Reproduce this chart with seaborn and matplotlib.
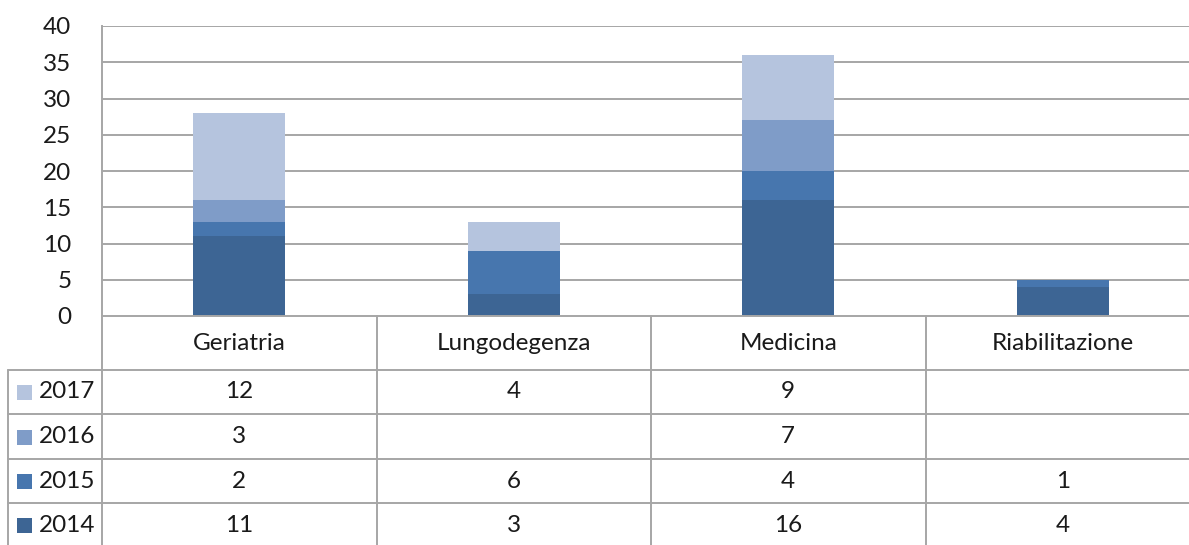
import numpy as np
import pandas as pd
import matplotlib
matplotlib.use("Agg")
import matplotlib.pyplot as plt
from matplotlib.patches import Rectangle
import seaborn as sns

# --- Data ---
reparti = ["Geriatria", "Lungodegenza", "Medicina", "Riabilitazione"]
anni = ["2014", "2015", "2016", "2017"]
v2014 = [11, 3, 16, 4]
v2015 = [2, 6, 4, 1]
v2016 = [3, 0, 7, 0]
v2017 = [12, 4, 9, 0]
yticks = [0, 5, 10, 15, 20, 25, 30, 35, 40]

colori = {"2014": "#3d6594", "2015": "#4776ae", "2016": "#7f9cc8", "2017": "#b5c4de"}
GRID = "#a6a6a6"
TXT = "#1a1a1a"
FS = 17.5

df = pd.DataFrame({"reparto": reparti, "2014": v2014, "2015": v2015,
                   "2016": v2016, "2017": v2017})
# cumulative heights for the stacked look
cum = df[anni].cumsum(axis=1)

sns.set_style("white")
plt.rcParams["font.family"] = ["Lato", "DejaVu Sans"]

W, H = 1189, 545
fig = plt.figure(figsize=(W / 100, H / 100), dpi=100)

# plot area in pixels: x 102 -> 1200 (cut by the image edge), y 26 -> 316
left, right, top, bottom = 102, 1200, 26, 316
ax = fig.add_axes([left / W, 1 - bottom / H, (right - left) / W, (bottom - top) / H])

# draw from the tallest stack down so each segment shows its own colour
for anno in reversed(anni):
    sns.barplot(x=df["reparto"], y=cum[anno], color=colori[anno], width=0.335,
                saturation=1, ax=ax, linewidth=0, zorder=3)

ax.set_ylim(0, 40)
ax.set_xlim(-0.5, len(reparti) - 0.5)
ax.set_yticks(yticks)
ax.set_yticklabels([str(t) for t in yticks], fontsize=17.5, color=TXT)
ax.set_xticks([])
ax.set_xlabel("")
ax.set_ylabel("")
ax.tick_params(axis="y", length=0, pad=22)
for t in yticks[1:]:
    ax.axhline(t, color=GRID, lw=1.4, zorder=1)
for s in ["top", "right", "bottom"]:
    ax.spines[s].set_visible(False)
ax.spines["left"].set_color(GRID)
ax.spines["left"].set_linewidth(1.4)

# --- data table underneath ---
tab = fig.add_axes([0, 0, 1, 1])
tab.set_xlim(0, W)
tab.set_ylim(H, 0)
tab.axis("off")
tab.patch.set_alpha(0)

col_w = (right - left) / len(reparti)
row_y = [316, 370, 414, 459, 503, 548]
lk = dict(color=GRID, lw=1.4)

tab.plot([left, right], [row_y[0], row_y[0]], **lk)
for y in row_y[1:-1]:
    tab.plot([8, right], [y, y], **lk)
tab.plot([8, 8], [row_y[1], H], **lk)
for i in range(len(reparti) + 1):
    x = left + i * col_w
    tab.plot([x, x], [row_y[0], H], **lk)

for i, rep in enumerate(reparti):
    cx = left + (i + 0.5) * col_w
    tab.text(cx, (row_y[0] + row_y[1]) / 2, rep, ha="center", va="center",
             fontsize=FS, color=TXT)

serie = {"2017": v2017, "2016": v2016, "2015": v2015, "2014": v2014}
for r, anno in enumerate(["2017", "2016", "2015", "2014"]):
    cy = (row_y[r + 1] + row_y[r + 2]) / 2
    if r == 3:
        cy = 525
    tab.add_patch(Rectangle((17, cy - 7), 15, 15, facecolor=colori[anno],
                            edgecolor="none"))
    tab.text(39, cy, anno, ha="left", va="center", fontsize=FS, color=TXT)
    for i, v in enumerate(serie[anno]):
        if v:
            tab.text(left + (i + 0.5) * col_w, cy, str(v), ha="center",
                     va="center", fontsize=FS, color=TXT)

fig.savefig("out.png", dpi=100, facecolor="white")
